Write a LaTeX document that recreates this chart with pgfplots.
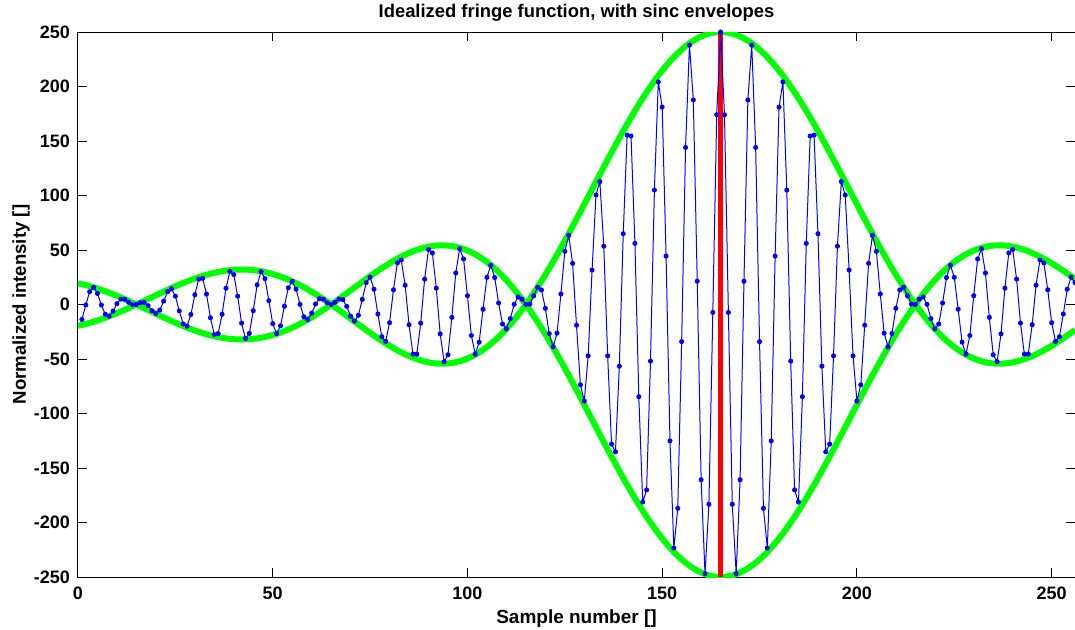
\documentclass[border=0pt]{standalone}
\usepackage{fontspec}
\setmainfont{Liberation Sans}
\usepackage{pgfplots}
\usepackage{pgfplotstable}
\pgfplotsset{compat=1.18}
\definecolor{mblue}{RGB}{0,0,255}
\definecolor{mgreen}{RGB}{0,255,0}
\definecolor{mred}{RGB}{255,0,0}

% n: sample, y: fringe value, up/lo: sinc envelope and its mirror
\pgfplotstableread{
n y up lo
0 nan -19.51 19.51
1 -13.71 -18.69 18.69
2 -0.43 -17.79 17.79
3 11.78 -16.81 16.81
4 15.75 -15.75 15.75
5 10.13 -14.62 14.62
6 -0.46 -13.41 13.41
7 -8.99 -12.13 12.13
8 -10.77 -10.79 10.79
9 -6.10 -9.39 9.39
10 0.74 -7.93 7.93
11 5.01 -6.43 6.43
12 4.83 -4.87 4.87
13 1.98 -3.28 3.28
14 -0.25 -1.65 1.65
15 0 0 0
16 1.65 1.68 -1.68
17 1.88 3.37 -3.37
18 -1.06 5.07 -5.07
19 -5.74 6.78 -6.78
20 -8.24 8.48 -8.48
21 -5.16 10.17 -10.17
22 3.14 11.85 -11.85
23 11.83 13.50 -13.50
24 14.46 15.12 -15.12
25 7.62 16.71 -16.71
26 -5.85 18.25 -18.25
27 -17.83 19.74 -19.74
28 -19.84 21.17 -21.17
29 -9.09 22.54 -22.54
30 8.95 23.84 -23.84
31 23.23 25.07 -25.07
32 24.00 26.22 -26.22
33 9.52 27.27 -27.27
34 -12.11 28.24 -28.24
35 -27.56 29.11 -29.11
36 -26.60 29.87 -29.87
37 -8.97 30.53 -30.53
38 14.95 31.08 -31.08
39 30.39 31.52 -31.52
40 27.45 31.83 -31.83
41 7.60 32.02 -32.02
42 -17.05 32.09 -32.09
43 -31.33 32.04 -32.04
44 -26.48 31.85 -31.85
45 -5.69 31.53 -31.53
46 18.03 31.09 -31.09
47 30.16 30.51 -30.51
48 23.76 29.80 -29.80
49 3.55 28.96 -28.96
50 -17.53 27.99 -27.99
51 -26.77 26.89 -26.89
52 -19.53 25.67 -25.67
53 -1.57 24.32 -24.32
54 15.33 22.85 -22.85
55 21.25 21.26 -21.26
56 14.12 19.56 -19.56
57 0.11 17.75 -17.75
58 -11.29 15.83 -15.83
59 -13.82 13.82 -13.82
60 -7.96 11.71 -11.71
61 0.50 9.51 -9.51
62 5.45 7.24 -7.24
63 4.87 4.89 -4.89
64 1.57 2.47 -2.47
65 0 0 0
66 1.99 -2.52 2.52
67 5.04 -5.09 5.09
68 4.54 -7.69 7.69
69 -1.73 -10.31 10.31
70 -10.67 -12.94 12.94
71 -15.27 -15.58 15.58
72 -9.87 -18.22 18.22
73 4.70 -20.83 20.83
74 20.06 -23.43 23.43
75 25.14 -25.99 25.99
76 14.02 -28.50 28.50
77 -8.73 -30.95 30.95
78 -29.50 -33.34 33.34
79 -33.90 -35.65 35.65
80 -16.67 -37.87 37.87
81 13.50 -39.99 39.99
82 38.25 -42.01 42.01
83 40.87 -43.90 43.90
84 17.67 -45.67 45.67
85 -18.54 -47.30 47.30
86 -45.51 -48.78 48.78
87 -45.51 -50.11 50.11
88 -17.05 -51.27 51.27
89 23.25 -52.25 52.25
90 50.52 -53.05 53.05
91 47.34 -53.66 53.66
92 14.97 -54.08 54.08
93 -26.94 -54.28 54.28
94 -52.58 -54.28 54.28
95 -46.12 -54.06 54.06
96 -11.81 -53.62 53.62
97 28.92 -52.94 52.94
98 51.08 -52.04 52.04
99 41.80 -50.90 50.90
100 8.07 -49.52 49.52
101 -28.46 -47.90 47.90
102 -45.63 -46.04 46.04
103 -34.56 -43.93 43.93
104 -4.37 -41.58 41.58
105 24.95 -38.98 38.98
106 36.04 -36.14 36.14
107 24.76 -33.05 33.05
108 1.39 -29.72 29.72
109 -17.89 -26.16 26.16
110 -22.36 -22.36 22.36
111 -12.99 -18.32 18.32
112 0.16 -14.07 14.07
113 6.96 -9.59 9.59
114 4.90 -4.90 4.90
115 0 0 0
116 0.36 5.10 -5.10
117 7.94 10.39 -10.39
118 15.78 15.86 -15.86
119 13.39 21.51 -21.51
120 -3.50 27.32 -27.32
121 -26.65 33.29 -33.29
122 -38.91 39.40 -39.40
123 -26.27 45.64 -45.64
124 9.65 52.00 -52.00
125 48.78 58.47 -58.47
126 63.52 65.03 -65.03
127 37.76 71.68 -71.68
128 -19.03 78.39 -78.39
129 -73.66 85.16 -85.16
130 -88.53 91.97 -91.97
131 -47.06 98.81 -98.81
132 31.58 105.66 -105.66
133 100.45 112.51 -112.51
134 112.79 119.34 -119.34
135 53.51 126.14 -126.14
136 -47.06 132.89 -132.89
137 -128.09 139.59 -139.59
138 -135.16 146.20 -146.20
139 -56.60 152.73 -152.73
140 64.95 159.15 -159.15
141 155.40 165.46 -165.46
142 154.57 171.63 -171.63
143 56.08 177.65 -177.65
144 -84.55 183.52 -183.52
145 -181.21 189.21 -189.21
146 -170.12 194.71 -194.71
147 -51.96 200.01 -200.01
148 104.95 205.10 -205.10
149 204.27 209.97 -209.97
150 181.10 214.60 -214.60
151 44.45 218.98 -218.98
152 -125.17 223.11 -223.11
153 -223.50 226.98 -226.98
154 -187.01 230.56 -230.56
155 -34.03 233.87 -233.87
156 144.10 236.89 -236.89
157 237.97 239.60 -239.60
158 187.70 242.02 -242.02
159 21.36 244.12 -244.12
160 -160.74 245.91 -245.91
161 -246.95 247.37 -247.37
162 -183.26 248.52 -248.52
163 -7.28 249.34 -249.34
164 174.06 249.83 -249.83
165 250.00 250.00 -250.00
166 174.06 249.83 -249.83
167 -7.28 249.34 -249.34
168 -183.26 248.52 -248.52
169 -246.95 247.37 -247.37
170 -160.74 245.91 -245.91
171 21.36 244.12 -244.12
172 187.70 242.02 -242.02
173 237.97 239.60 -239.60
174 144.10 236.89 -236.89
175 -34.03 233.87 -233.87
176 -187.01 230.56 -230.56
177 -223.50 226.98 -226.98
178 -125.17 223.11 -223.11
179 44.45 218.98 -218.98
180 181.10 214.60 -214.60
181 204.27 209.97 -209.97
182 104.95 205.10 -205.10
183 -51.96 200.01 -200.01
184 -170.12 194.71 -194.71
185 -181.21 189.21 -189.21
186 -84.55 183.52 -183.52
187 56.08 177.65 -177.65
188 154.57 171.63 -171.63
189 155.40 165.46 -165.46
190 64.95 159.15 -159.15
191 -56.60 152.73 -152.73
192 -135.16 146.20 -146.20
193 -128.09 139.59 -139.59
194 -47.06 132.89 -132.89
195 53.51 126.14 -126.14
196 112.79 119.34 -119.34
197 100.45 112.51 -112.51
198 31.58 105.66 -105.66
199 -47.06 98.81 -98.81
200 -88.53 91.97 -91.97
201 -73.66 85.16 -85.16
202 -19.03 78.39 -78.39
203 37.76 71.68 -71.68
204 63.52 65.03 -65.03
205 48.78 58.47 -58.47
206 9.65 52.00 -52.00
207 -26.27 45.64 -45.64
208 -38.91 39.40 -39.40
209 -26.65 33.29 -33.29
210 -3.50 27.32 -27.32
211 13.39 21.51 -21.51
212 15.78 15.86 -15.86
213 7.94 10.39 -10.39
214 0.36 5.10 -5.10
215 0 0 0
216 4.90 -4.90 4.90
217 6.96 -9.59 9.59
218 0.16 -14.07 14.07
219 -12.99 -18.32 18.32
220 -22.36 -22.36 22.36
221 -17.89 -26.16 26.16
222 1.39 -29.72 29.72
223 24.76 -33.05 33.05
224 36.04 -36.14 36.14
225 24.95 -38.98 38.98
226 -4.37 -41.58 41.58
227 -34.56 -43.93 43.93
228 -45.63 -46.04 46.04
229 -28.46 -47.90 47.90
230 8.07 -49.52 49.52
231 41.80 -50.90 50.90
232 51.08 -52.04 52.04
233 28.92 -52.94 52.94
234 -11.81 -53.62 53.62
235 -46.12 -54.06 54.06
236 -52.58 -54.28 54.28
237 -26.94 -54.28 54.28
238 14.97 -54.08 54.08
239 47.34 -53.66 53.66
240 50.52 -53.05 53.05
241 23.25 -52.25 52.25
242 -17.05 -51.27 51.27
243 -45.51 -50.11 50.11
244 -45.51 -48.78 48.78
245 -18.54 -47.30 47.30
246 17.67 -45.67 45.67
247 40.87 -43.90 43.90
248 38.25 -42.01 42.01
249 13.50 -39.99 39.99
250 -16.67 -37.87 37.87
251 -33.90 -35.65 35.65
252 -29.50 -33.34 33.34
253 -8.73 -30.95 30.95
254 14.02 -28.50 28.50
255 25.14 -25.99 25.99
256 20.06 -23.43 23.43
}\fringe

\begin{document}
\begin{tikzpicture}
\begin{axis}[
  at={(0,0)}, anchor=south west,
  scale only axis, width=498.5pt, height=272.5pt,
  xmin=0, xmax=256, ymin=-250, ymax=250,
  xtick={0,50,...,250}, ytick={-250,-200,...,250},
  tick align=inside, major tick length=4.5pt,
  axis line style={black, line width=0.5pt},
  every tick/.style={black, line width=0.5pt},
  tick label style={font=\bfseries\fontsize{9}{10}\selectfont},
  /pgf/number format/assume math mode=true,
  scaled ticks=false,
  xticklabel style={yshift=-1.5pt},
  yticklabel style={xshift=-0.5pt},
  title={Idealized fringe function, with sinc envelopes},
  title style={font=\bfseries\fontsize{9.2}{10}\selectfont,
    at={(axis description cs:0.5,1)}, anchor=base, yshift=1.5pt},
  xlabel={Sample number []},
  xlabel style={font=\bfseries\fontsize{9.5}{10}\selectfont,
    at={(axis description cs:0.5,0)}, anchor=base, yshift=-23pt},
  ylabel={Normalized intensity []},
  ylabel style={font=\bfseries\fontsize{9.3}{10}\selectfont,
    at={([xshift=-26pt]axis description cs:0,0.5)}, anchor=base},
]
\addplot[mgreen, line width=3pt, line join=round] table[x=n, y=up] {\fringe};
\addplot[mgreen, line width=3pt, line join=round] table[x=n, y=lo] {\fringe};
\addplot[mred, line width=2.8pt] coordinates {(165,-250) (165,250)};
\addplot[mblue, line width=0.5pt, mark=*, mark size=1pt,
  mark options={fill=mblue, draw=mblue}] table[x=n, y=y] {\fringe};
\end{axis}
\pgfresetboundingbox
\path (-39pt,-26pt) rectangle (498.5pt,288.5pt);
\end{tikzpicture}
\end{document}
